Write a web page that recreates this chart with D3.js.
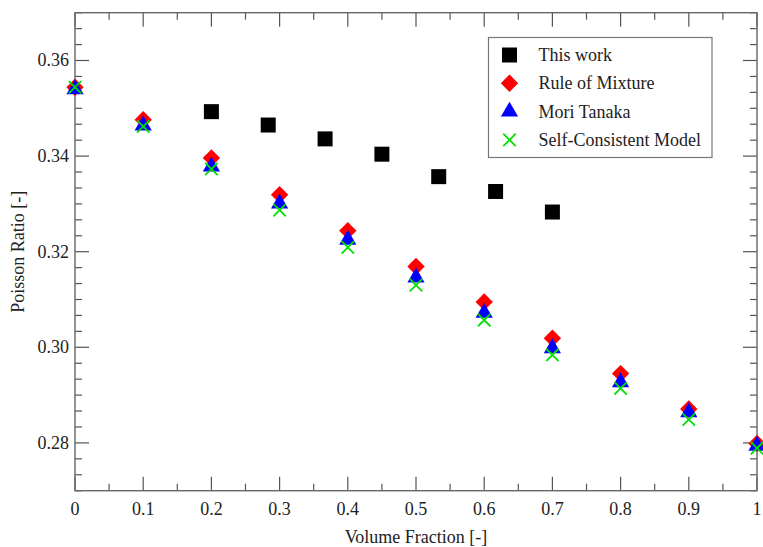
<!DOCTYPE html>
<html>
<head>
<meta charset="utf-8">
<script src="https://cdn.jsdelivr.net/npm/d3@7"></script>
<style>
  body { margin: 0; background: #fff; }
  text { font-family: "Liberation Serif", "Times New Roman", serif; fill: #222; }
</style>
</head>
<body>
<div id="chart"></div>
<script>
// volume fractions for the analytical models
var volumeFraction = [0, 0.1, 0.2, 0.3, 0.4, 0.5, 0.6, 0.7, 0.8, 0.9, 1.0]
var ruleOfMixture = [0.3544, 0.3476, 0.3396, 0.3319, 0.3244, 0.3169, 0.3095, 0.3019, 0.2945, 0.2871, 0.2799]
var moriTanaka = [0.3540, 0.3464, 0.3378, 0.3301, 0.3225, 0.3146, 0.3072, 0.2998, 0.2927, 0.2864, 0.2794]
var selfConsistent = [0.3544, 0.3462, 0.3373, 0.3287, 0.3209, 0.3130, 0.3057, 0.2984, 0.2914, 0.2849, 0.2789]

// this work
var thisWorkX = [0.2, 0.2833, 0.3667, 0.45, 0.5333, 0.6167, 0.7]
var thisWorkY = [0.3493, 0.3465, 0.3436, 0.3404, 0.3357, 0.3326, 0.3283]

var xTicks = [0, 0.1, 0.2, 0.3, 0.4, 0.5, 0.6, 0.7, 0.8, 0.9, 1]
var yTicks = [0.28, 0.30, 0.32, 0.34, 0.36]
var legendLabels = ["This work", "Rule of Mixture", "Mori Tanaka", "Self-Consistent Model"]

var W = 763, H = 547
var margin = {top: 12.7, right: 6, bottom: 56.3, left: 75}
var width = W - margin.left - margin.right
var height = H - margin.top - margin.bottom

var svg = d3.select("#chart").append("svg")
  .attr("width", W)
  .attr("height", H)
var g = svg.append("g")
  .attr("transform", "translate(" + margin.left + "," + margin.top + ")")

var x = d3.scaleLinear().domain([0, 1]).range([0, width])
var y = d3.scaleLinear().domain([0.27, 0.37]).range([height, 0])

var tickColor = "#555"

// x ticks, bottom and top, pointing inward
var xMinor = d3.range(0, 1.0001, 0.05)
xMinor.forEach(function(v, i) {
  var len = (i % 2 == 0) ? 14 : 7
  g.append("line").attr("x1", x(v)).attr("x2", x(v)).attr("y1", height).attr("y2", height - len)
    .attr("stroke", tickColor).attr("stroke-width", 1.2)
  g.append("line").attr("x1", x(v)).attr("x2", x(v)).attr("y1", 0).attr("y2", len)
    .attr("stroke", tickColor).attr("stroke-width", 1.2)
})

// y ticks, left and right
var yMinor = d3.range(0, 31).map(function(i) { return 0.27 + i * 0.02 / 6 })
yMinor.forEach(function(v, i) {
  var k = Math.round((v - 0.28) / (0.02 / 6))
  var len = (((k % 6) + 6) % 6 == 0) ? 14 : 7
  g.append("line").attr("x1", 0).attr("x2", len).attr("y1", y(v)).attr("y2", y(v))
    .attr("stroke", tickColor).attr("stroke-width", 1.2)
  g.append("line").attr("x1", width).attr("x2", width - len).attr("y1", y(v)).attr("y2", y(v))
    .attr("stroke", tickColor).attr("stroke-width", 1.2)
})

// frame
g.append("rect")
  .attr("x", 0).attr("y", 0).attr("width", width).attr("height", height)
  .attr("fill", "none").attr("stroke", "#666").attr("stroke-width", 1.4)

// tick labels
g.selectAll(".xlab").data(xTicks).enter().append("text")
  .attr("x", d => x(d)).attr("y", height + 24)
  .attr("text-anchor", "middle").style("font-size", "18px")
  .text(d => d == 0 ? "0" : d == 1 ? "1" : d3.format(".1f")(d))

g.selectAll(".ylab").data(yTicks).enter().append("text")
  .attr("x", -6).attr("y", d => y(d) + 6)
  .attr("text-anchor", "end").style("font-size", "18px")
  .text(d => d3.format(".2f")(d))

// axis titles
svg.append("text")
  .attr("x", margin.left + width / 2).attr("y", 543)
  .attr("text-anchor", "middle").style("font-size", "18px")
  .text("Volume Fraction [-]")
svg.append("text")
  .attr("transform", "translate(24," + (margin.top + height / 2) + ") rotate(-90)")
  .attr("text-anchor", "middle").style("font-size", "18px")
  .text("Poisson Ratio [-]")

// marker shapes
var diamond = { draw: function(ctx, s) { var r = 8.7; ctx.moveTo(0, -r); ctx.lineTo(r, 0); ctx.lineTo(0, r); ctx.lineTo(-r, 0); ctx.closePath() } }
var triangle = { draw: function(ctx, s) { var a = 8.6, h = a * Math.sqrt(3); ctx.moveTo(0, -2 * h / 3); ctx.lineTo(a, h / 3); ctx.lineTo(-a, h / 3); ctx.closePath() } }
var cross = { draw: function(ctx, s) { var r = 6.2; ctx.moveTo(-r, -r); ctx.lineTo(r, r); ctx.moveTo(-r, r); ctx.lineTo(r, -r) } }
var square = { draw: function(ctx, s) { var r = 7.5; ctx.rect(-r, -r, 2 * r, 2 * r) } }

var series = [
  {xs: thisWorkX, ys: thisWorkY, type: square, fill: "#000", stroke: "none"},
  {xs: volumeFraction, ys: ruleOfMixture, type: diamond, fill: "#ff0000", stroke: "none"},
  {xs: volumeFraction, ys: moriTanaka, type: triangle, fill: "#0000ff", stroke: "none"},
  {xs: volumeFraction, ys: selfConsistent, type: cross, fill: "none", stroke: "#00e000"}
]

series.forEach(function(s) {
  var pts = s.xs.map((v, i) => [v, s.ys[i]])
  g.selectAll(null).data(pts).enter().append("path")
    .attr("d", d3.symbol().type(s.type)())
    .attr("transform", d => "translate(" + x(d[0]) + "," + y(d[1]) + ")")
    .attr("fill", s.fill)
    .attr("stroke", s.stroke)
    .attr("stroke-width", 1.8)
})

// legend
var legend = svg.append("g").attr("transform", "translate(488.5,37.5)")
legend.append("rect")
  .attr("width", 223.5).attr("height", 120)
  .attr("fill", "#fff").attr("stroke", "#777").attr("stroke-width", 1.2)
legendLabels.forEach(function(lab, i) {
  var cy = 17.5 + i * 28.3
  var s = series[i]
  legend.append("path")
    .attr("d", d3.symbol().type(s.type)())
    .attr("transform", "translate(21," + cy + ")")
    .attr("fill", s.fill).attr("stroke", s.stroke).attr("stroke-width", 1.8)
  legend.append("text")
    .attr("x", 50).attr("y", cy + 6)
    .style("font-size", "18px")
    .text(lab)
})
</script>
</body>
</html>
